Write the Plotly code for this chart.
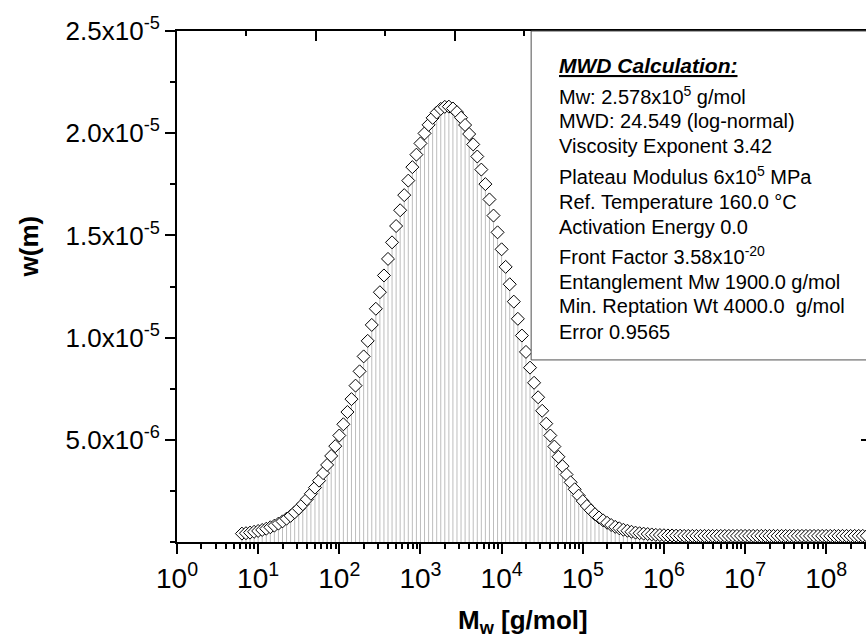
import plotly.graph_objects as go

# ---- data (x as log10 of M in g/mol, w in units of 1e-6) ----
log_m = [
    0.80, 0.85, 0.90, 0.95, 1.00, 1.05, 1.10, 1.15, 1.20, 1.25,
    1.30, 1.35, 1.40, 1.45, 1.50, 1.55, 1.60, 1.65, 1.70, 1.75,
    1.80, 1.85, 1.90, 1.95, 2.00, 2.05, 2.10, 2.15, 2.20, 2.25,
    2.30, 2.35, 2.40, 2.45, 2.50, 2.55, 2.60, 2.65, 2.70, 2.75,
    2.80, 2.85, 2.90, 2.95, 3.00, 3.05, 3.10, 3.15, 3.20, 3.25,
    3.30, 3.35, 3.40, 3.45, 3.50, 3.55, 3.60, 3.65, 3.70, 3.75,
    3.80, 3.85, 3.90, 3.95, 4.00, 4.05, 4.10, 4.15, 4.20, 4.25,
    4.30, 4.35, 4.40, 4.45, 4.50, 4.55, 4.60, 4.65, 4.70, 4.75,
    4.80, 4.85, 4.90, 4.95, 5.00, 5.05, 5.10, 5.15, 5.20, 5.25,
    5.30, 5.35, 5.40, 5.45, 5.50, 5.55, 5.60, 5.65, 5.70, 5.75,
    5.80, 5.85, 5.90, 5.95, 6.00, 6.05, 6.10, 6.15, 6.20, 6.25,
    6.30, 6.35, 6.40, 6.45, 6.50, 6.55, 6.60, 6.65, 6.70, 6.75,
    6.80, 6.85, 6.90, 6.95, 7.00, 7.05, 7.10, 7.15, 7.20, 7.25,
    7.30, 7.35, 7.40, 7.45, 7.50, 7.55, 7.60, 7.65, 7.70, 7.75,
    7.80, 7.85, 7.90, 7.95, 8.00, 8.05, 8.10, 8.15, 8.20, 8.25,
    8.30, 8.35, 8.40, 8.45, 8.50,
]
w_e6 = [
    0.41, 0.43, 0.46, 0.50, 0.54, 0.59, 0.65, 0.72, 0.80, 0.90,
    1.01, 1.14, 1.28, 1.45, 1.64, 1.85, 2.09, 2.36, 2.66, 3.00,
    3.37, 3.77, 4.21, 4.69, 5.21, 5.76, 6.36, 6.99, 7.65, 8.35,
    9.08, 9.84, 10.62, 11.41, 12.22, 13.04, 13.85, 14.66, 15.46, 16.23,
    16.97, 17.68, 18.34, 18.95, 19.50, 19.99, 20.41, 20.75, 21.01, 21.19,
    21.29, 21.30, 21.21, 21.03, 20.76, 20.40, 19.96, 19.45, 18.86, 18.22,
    17.51, 16.76, 15.97, 15.15, 14.32, 13.46, 12.61, 11.76, 10.92, 10.10,
    9.30, 8.53, 7.79, 7.08, 6.42, 5.79, 5.21, 4.67, 4.17, 3.71,
    3.30, 2.92, 2.58, 2.27, 2.00, 1.76, 1.55, 1.36, 1.20, 1.06,
    0.94, 0.83, 0.74, 0.67, 0.60, 0.55, 0.50, 0.46, 0.43, 0.41,
    0.39, 0.37, 0.35, 0.34, 0.33, 0.32, 0.32, 0.31, 0.31, 0.30,
    0.30, 0.30, 0.30, 0.30, 0.30, 0.30, 0.30, 0.30, 0.30, 0.30,
    0.30, 0.30, 0.30, 0.30, 0.30, 0.30, 0.30, 0.30, 0.30, 0.30,
    0.30, 0.30, 0.30, 0.30, 0.30, 0.30, 0.30, 0.30, 0.30, 0.30,
    0.30, 0.30, 0.30, 0.30, 0.30, 0.30, 0.30, 0.30, 0.30, 0.30,
    0.30, 0.30, 0.30, 0.30, 0.30,
]

x_tick_exps = [0, 1, 2, 3, 4, 5, 6, 7, 8]
y_tick_vals = [5, 10, 15, 20, 25]
y_tick_text = ["5.0x10<sup>-6</sup>", "1.0x10<sup>-5</sup>", "1.5x10<sup>-5</sup>",
               "2.0x10<sup>-5</sup>", "2.5x10<sup>-5</sup>"]

info_title = "<b><i><u>MWD Calculation:</u></i></b>"
info_lines = [
    "Mw: 2.578x10<sup>5</sup> g/mol",
    "MWD: 24.549 (log-normal)",
    "Viscosity Exponent 3.42",
    "Plateau Modulus 6x10<sup>5</sup> MPa",
    "Ref. Temperature 160.0 \u00b0C",
    "Activation Energy 0.0",
    "Front Factor 3.58x10<sup>-20</sup>",
    "Entanglement Mw 1900.0 g/mol",
    "Min. Reptation Wt 4000.0 \u00a0g/mol",
    "Error 0.9565",
]
info_y = [0.873, 0.824, 0.774, 0.718, 0.666, 0.617, 0.560, 0.509, 0.461, 0.4105]

FONT = "Liberation Sans, Arial, sans-serif"

m_vals = [10 ** v for v in log_m]

fig = go.Figure()
fig.add_trace(go.Scatter(
    x=m_vals, y=w_e6, mode="markers", showlegend=False, hoverinfo="skip",
    marker=dict(symbol="diamond", size=10, color="white",
                line=dict(color="black", width=1)),
    error_y=dict(type="data", symmetric=False, array=[0] * len(w_e6),
                 arrayminus=w_e6, width=0, color="#bdbdbd", thickness=1),
))
# helper trace to carry the mirrored top/right tick axes
fig.add_trace(go.Scatter(x=[None], y=[None], xaxis="x2", yaxis="y2",
                         showlegend=False, hoverinfo="skip"))

minor_x = [k * 10 ** e for e in x_tick_exps for k in range(2, 10)]

fig.update_layout(
    width=866, height=644,
    margin=dict(l=177, r=0, t=31, b=102),
    paper_bgcolor="white", plot_bgcolor="white",
    font=dict(family=FONT, color="black"),
    xaxis=dict(
        type="log", range=[0, 8.49], showgrid=False, zeroline=False,
        showline=True, linecolor="black", linewidth=2,
        ticks="outside", ticklen=10, tickwidth=2, tickcolor="black",
        tickmode="array", tickvals=[10 ** e for e in x_tick_exps],
        ticktext=["10<sup>%d</sup>" % e for e in x_tick_exps],
        tickfont=dict(size=28, family=FONT),
        minor=dict(tickmode="array", tickvals=minor_x, ticks="outside",
                   ticklen=5, tickwidth=2, tickcolor="black", showgrid=False),
    ),
    yaxis=dict(
        range=[0, 25], showgrid=False, zeroline=False,
        showline=True, linecolor="black", linewidth=2,
        ticks="outside", ticklen=10, tickwidth=2, tickcolor="black",
        tickmode="array", tickvals=y_tick_vals, ticktext=y_tick_text,
        tickfont=dict(size=26, family=FONT),
        minor=dict(dtick=2.5, tick0=0, ticks="outside", ticklen=5,
                   tickwidth=2, tickcolor="black", showgrid=False),
    ),
    xaxis2=dict(
        overlaying="x", side="top", anchor="y", range=[0, 689.3],
        showgrid=False, zeroline=False, showline=True, linecolor="black",
        linewidth=2, ticks="inside", ticklen=10, tickwidth=2,
        tickcolor="black", tick0=0, dtick=139, showticklabels=False,
        minor=dict(dtick=69.5, tick0=0, ticks="inside", ticklen=5,
                   tickwidth=2, tickcolor="black", showgrid=False),
    ),
    yaxis2=dict(
        overlaying="y", side="right", anchor="x", range=[0, 25],
        showgrid=False, zeroline=False, showline=False,
        ticks="inside", ticklen=5, tickwidth=2, tickcolor="black",
        tickmode="array", tickvals=y_tick_vals, showticklabels=False,
    ),
)

# info box
fig.add_shape(type="rect", xref="paper", yref="paper",
              x0=0.514, x1=1.05, y0=0.3563, y1=1.0,
              line=dict(color="#505050", width=1), fillcolor="white",
              layer="above")

fig.add_annotation(xref="paper", yref="paper", x=0.5522, y=0.9334,
                   xanchor="left", yanchor="middle", showarrow=False,
                   text=info_title, font=dict(size=21, family=FONT))
for txt, yy in zip(info_lines, info_y):
    fig.add_annotation(xref="paper", yref="paper", x=0.5522, y=yy,
                       xanchor="left", yanchor="middle", showarrow=False,
                       text=txt, font=dict(size=20, family=FONT))

# axis titles
fig.add_annotation(xref="paper", yref="paper", x=0.5024, y=-0.156,
                   xanchor="center", yanchor="middle", showarrow=False,
                   text="<b>M<sub>w</sub> [g/mol]</b>",
                   font=dict(size=26, family=FONT))
fig.add_annotation(xref="paper", yref="paper", x=-0.2143, y=0.579,
                   xanchor="center", yanchor="middle", showarrow=False,
                   textangle=-90, text="<b>w(m)</b>",
                   font=dict(size=26, family=FONT))

fig.write_html("out.html")
